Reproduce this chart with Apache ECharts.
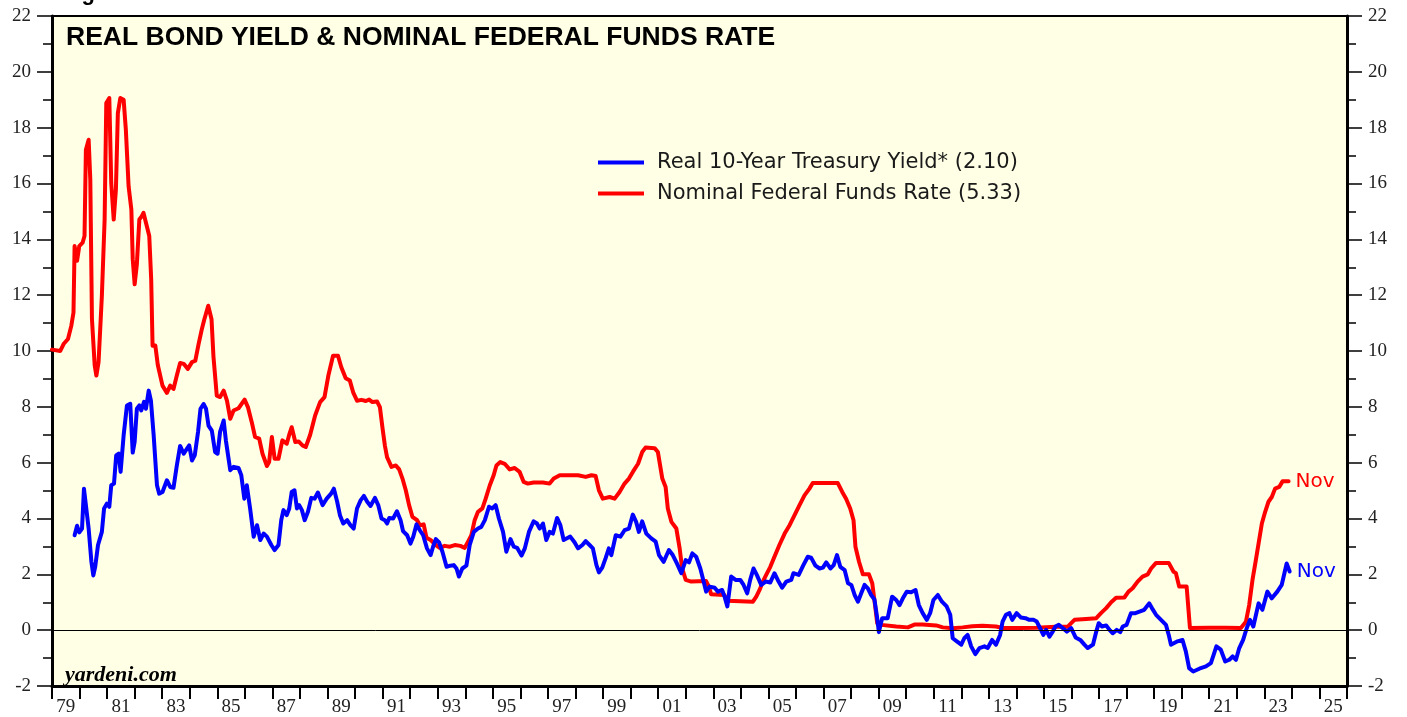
<!DOCTYPE html>
<html>
<head>
<meta charset="utf-8">
<title>Real Bond Yield & Nominal Federal Funds Rate</title>
<script src="https://cdn.jsdelivr.net/npm/echarts@6/dist/echarts.min.js"></script>
<style>
  html, body { margin: 0; padding: 0; background: #fff; }
  #chart { width: 1407px; height: 717px; }
</style>
</head>
<body>
<div id="chart"></div>
<script>
// year labels (one per year band, odd years shown)
var yearLabels = [];
for (var yr = 1979; yr <= 2025; yr++) yearLabels.push(String(yr).slice(2));

// Nominal Federal Funds Rate, % (x = decimal year)
var ffYears = [
  1979.0, 1979.3, 1979.42, 1979.58, 1979.7, 1979.78, 1979.82, 1979.91, 1979.99,
  1980.11, 1980.18, 1980.23, 1980.33, 1980.39, 1980.45, 1980.55, 1980.61, 1980.69, 1980.81, 1980.91, 1980.97,
  1981.08, 1981.15, 1981.24, 1981.32, 1981.39, 1981.48, 1981.6, 1981.68, 1981.78, 1981.88, 1981.93,
  1982.0, 1982.08, 1982.17, 1982.26, 1982.32, 1982.44, 1982.53, 1982.6, 1982.65, 1982.75, 1982.84,
  1983.01, 1983.17, 1983.29, 1983.41, 1983.53, 1983.65, 1983.78, 1983.93,
  1984.08, 1984.2, 1984.32, 1984.44, 1984.52, 1984.67, 1984.79, 1984.86, 1984.98,
  1985.1, 1985.23, 1985.35, 1985.47, 1985.59, 1985.77, 1985.99,
  1986.11, 1986.25, 1986.37, 1986.52, 1986.64, 1986.8, 1986.88, 1986.98,
  1987.08, 1987.22, 1987.36, 1987.52, 1987.61, 1987.7, 1987.83, 1987.95,
  1988.09, 1988.21, 1988.37, 1988.55, 1988.73, 1988.89,
  1989.03, 1989.2, 1989.38, 1989.5, 1989.66, 1989.81, 1989.93,
  1990.07, 1990.23, 1990.39, 1990.51, 1990.63, 1990.8, 1990.9,
  1991.0, 1991.08, 1991.16, 1991.32, 1991.48, 1991.6, 1991.72, 1991.84, 1991.96,
  1992.08, 1992.25, 1992.35, 1992.49, 1992.59, 1992.74, 1992.93,
  1993.07, 1993.25, 1993.44, 1993.62, 1993.82, 1993.98,
  1994.1, 1994.22, 1994.34, 1994.46, 1994.62, 1994.74, 1994.89,
  1995.03, 1995.13, 1995.27, 1995.43, 1995.61, 1995.79, 1995.97,
  1996.12, 1996.27, 1996.48, 1996.82, 1997.06, 1997.21, 1997.43,
  1998.09, 1998.37, 1998.58, 1998.73, 1998.85, 1998.99,
  1999.24, 1999.42, 1999.6, 1999.78, 1999.94,
  2000.08, 2000.27, 2000.42, 2000.54, 2000.87, 2000.99,
  2001.15, 2001.27, 2001.35, 2001.48, 2001.66, 2001.78, 2001.87,
  2002.0, 2002.2, 2002.74, 2002.84, 2002.92,
  2003.4, 2003.52, 2004.44, 2004.56, 2004.68, 2004.8, 2004.92,
  2005.07, 2005.22, 2005.4, 2005.59, 2005.77, 2005.95,
  2006.13, 2006.31, 2006.49, 2006.61, 2007.52, 2007.68, 2007.82, 2007.97,
  2008.09, 2008.16, 2008.29, 2008.43, 2008.65, 2008.77, 2008.87, 2008.95,
  2009.1, 2009.64, 2010.06, 2010.3, 2010.6, 2011.09, 2011.33, 2011.69,
  2012.05, 2012.4, 2012.77, 2013.26, 2013.5, 2014.14, 2014.72, 2015.44, 2015.86, 2015.99,
  2016.11, 2016.53, 2016.9, 2017.07, 2017.26, 2017.44, 2017.62, 2017.92,
  2018.07, 2018.22, 2018.4, 2018.58, 2018.77, 2018.89,
  2019.07, 2019.53, 2019.7, 2019.79, 2019.91, 2020.18, 2020.3,
  2021.0, 2021.6, 2022.15, 2022.21, 2022.33, 2022.45, 2022.57, 2022.69, 2022.79, 2022.91,
  2023.03, 2023.15, 2023.27, 2023.39, 2023.54, 2023.66, 2023.88
];
var ffRates = [
  10.05, 10.0, 10.25, 10.43, 10.9, 11.38, 13.76, 13.23, 13.76,
  13.88, 14.12, 17.21, 17.57, 16.14, 11.14, 9.48, 9.12, 9.6, 11.98, 14.71, 18.88,
  19.06, 16.02, 14.71, 15.79, 18.52, 19.06, 19.0, 17.93, 15.9, 15.07, 13.29,
  12.39, 13.11, 14.71, 14.83, 14.95, 14.48, 14.12, 12.57, 10.19, 10.2, 9.5,
  8.76, 8.5, 8.76, 8.64, 9.12, 9.57, 9.54, 9.36,
  9.6, 9.65, 10.25, 10.79, 11.1, 11.62, 11.14, 9.8, 8.4,
  8.35, 8.58, 8.22, 7.57, 7.87, 7.95, 8.26,
  7.99, 7.45, 6.92, 6.86, 6.32, 5.88, 6.02, 6.92,
  6.14, 6.14, 6.8, 6.68, 7.0, 7.27, 6.74, 6.76,
  6.62, 6.56, 7.0, 7.69, 8.17, 8.35,
  9.12, 9.83, 9.83, 9.42, 9.02, 8.94, 8.52,
  8.22, 8.25, 8.21, 8.26, 8.17, 8.19, 7.99,
  7.21, 6.62, 6.2, 5.85, 5.9, 5.76, 5.43, 5.01, 4.48,
  4.06, 3.94, 3.76, 3.79, 3.31, 3.23, 3.05,
  2.95, 3.02, 2.99, 3.05, 3.02, 2.95,
  3.17, 3.4, 3.94, 4.24, 4.36, 4.71, 5.19,
  5.55, 5.9, 6.02, 5.96, 5.76, 5.81, 5.67,
  5.31, 5.25, 5.29, 5.29, 5.25, 5.43, 5.55,
  5.55, 5.49, 5.55, 5.52, 5.01, 4.71,
  4.77, 4.71, 4.95, 5.25, 5.43,
  5.67, 5.96, 6.38, 6.54, 6.52, 6.38,
  5.43, 5.13, 4.36, 3.88, 3.64, 2.93, 2.21,
  1.8, 1.74, 1.76, 1.56, 1.29,
  1.26, 1.05, 1.02, 1.2, 1.44, 1.74, 1.98,
  2.27, 2.63, 3.05, 3.46, 3.76, 4.12,
  4.48, 4.83, 5.07, 5.27, 5.27, 4.95, 4.71, 4.36,
  3.94, 2.99, 2.45, 2.0, 2.0, 1.68, 0.9, 0.25,
  0.19, 0.13, 0.1, 0.2, 0.2, 0.17, 0.1, 0.07,
  0.1, 0.14, 0.16, 0.13, 0.08, 0.08, 0.09, 0.12, 0.12, 0.25,
  0.37, 0.4, 0.43, 0.61, 0.79, 1.0, 1.16, 1.17,
  1.38, 1.5, 1.74, 1.92, 2.0, 2.21,
  2.41, 2.41, 2.1, 2.04, 1.56, 1.56, 0.08,
  0.09, 0.09, 0.08, 0.08, 0.3, 0.9, 1.8, 2.5, 3.1, 3.82,
  4.24, 4.6, 4.77, 5.07, 5.13, 5.33, 5.33
];

// Real 10-Year Treasury Yield, % (x = decimal year)
var ryYears = [
  1979.82, 1979.91, 1979.99, 1980.09, 1980.16, 1980.23, 1980.33, 1980.43, 1980.5, 1980.57, 1980.67, 1980.81, 1980.89, 1980.99,
  1981.08, 1981.15, 1981.25, 1981.33, 1981.42, 1981.49, 1981.6, 1981.72, 1981.84, 1981.93,
  1982.0, 1982.08, 1982.17, 1982.24, 1982.34, 1982.41, 1982.51, 1982.59, 1982.69, 1982.81, 1982.89,
  1983.01, 1983.17, 1983.29, 1983.41, 1983.53, 1983.65, 1983.78, 1983.9, 1983.98,
  1984.08, 1984.18, 1984.3, 1984.39, 1984.5, 1984.59, 1984.68, 1984.8, 1984.92,
  1985.01, 1985.1, 1985.23, 1985.31, 1985.47, 1985.59, 1985.77, 1985.87, 1985.98,
  1986.07, 1986.19, 1986.32, 1986.44, 1986.56, 1986.68, 1986.8, 1986.96,
  1987.08, 1987.22, 1987.32, 1987.4, 1987.52, 1987.61, 1987.7, 1987.8, 1987.89, 1987.97,
  1988.07, 1988.17, 1988.29, 1988.41, 1988.53, 1988.65, 1988.82, 1988.97,
  1989.13, 1989.23, 1989.35, 1989.45, 1989.57, 1989.71, 1989.83, 1989.95,
  1990.07, 1990.2, 1990.32, 1990.44, 1990.56, 1990.72, 1990.84, 1990.96,
  1991.08, 1991.16, 1991.24, 1991.38, 1991.52, 1991.65, 1991.74, 1991.89,
  1992.01, 1992.11, 1992.23, 1992.35, 1992.47, 1992.61, 1992.74, 1992.83, 1992.93,
  1993.05, 1993.17, 1993.32, 1993.46, 1993.58, 1993.68, 1993.77, 1993.89,
  1994.04, 1994.16, 1994.31, 1994.46, 1994.58, 1994.71, 1994.86, 1994.98,
  1995.1, 1995.22, 1995.37, 1995.49, 1995.64, 1995.76, 1995.88,
  1996.04, 1996.16, 1996.31, 1996.48, 1996.6, 1996.7, 1996.82, 1996.94,
  1997.06, 1997.18, 1997.33, 1997.45, 1997.57, 1997.69, 1997.81, 1997.97,
  1998.09, 1998.25, 1998.37, 1998.51, 1998.63, 1998.76, 1998.85, 1998.97,
  1999.09, 1999.21, 1999.3, 1999.46, 1999.63, 1999.78, 1999.94,
  2000.08, 2000.2, 2000.3, 2000.42, 2000.57, 2000.75, 2000.91,
  2001.03, 2001.2, 2001.39, 2001.53, 2001.68, 2001.84,
  2002.0, 2002.12, 2002.24, 2002.38, 2002.53, 2002.65, 2002.74, 2002.87,
  2003.05, 2003.17, 2003.32, 2003.41, 2003.51, 2003.65, 2003.81, 2003.98,
  2004.1, 2004.23, 2004.34, 2004.46, 2004.58, 2004.74, 2004.9,
  2005.07, 2005.22, 2005.34, 2005.5, 2005.65, 2005.83, 2005.91,
  2006.1, 2006.27, 2006.43, 2006.55, 2006.71, 2006.86, 2006.98,
  2007.1, 2007.25, 2007.37, 2007.49, 2007.61, 2007.77, 2007.89,
  2008.01, 2008.13, 2008.25, 2008.37, 2008.49, 2008.61, 2008.73, 2008.85, 2008.94,
  2009.01, 2009.13, 2009.33, 2009.49, 2009.64, 2009.76, 2009.88,
  2010.02, 2010.18, 2010.34, 2010.46, 2010.6, 2010.75, 2010.87, 2010.99,
  2011.15, 2011.3, 2011.47, 2011.6, 2011.69, 2011.84,
  2012.0, 2012.11, 2012.23, 2012.36, 2012.51, 2012.66, 2012.84, 2012.96,
  2013.12, 2013.26, 2013.41, 2013.5, 2013.62, 2013.75, 2013.85,
  2014.01, 2014.17, 2014.33, 2014.47, 2014.62, 2014.74, 2014.86, 2014.98,
  2015.08, 2015.2, 2015.32, 2015.42, 2015.54, 2015.69, 2015.83, 2015.99,
  2016.15, 2016.32, 2016.47, 2016.59, 2016.78, 2016.9, 2016.99,
  2017.11, 2017.26, 2017.38, 2017.5, 2017.64, 2017.77, 2017.86,
  2018.0, 2018.16, 2018.32, 2018.49, 2018.64, 2018.82, 2018.92,
  2019.07, 2019.25, 2019.43, 2019.53, 2019.61, 2019.85,
  2020.03, 2020.15, 2020.27, 2020.42, 2020.64, 2020.88,
  2021.06, 2021.18, 2021.26, 2021.42, 2021.58, 2021.73, 2021.85, 2021.97,
  2022.09, 2022.23, 2022.36, 2022.48, 2022.6, 2022.79, 2022.93,
  2023.11, 2023.27, 2023.47, 2023.63, 2023.81, 2023.92
];
var ryRates = [
  3.40, 3.74, 3.5, 3.64, 5.07, 5.1, 3.64, 2.45, 1.96, 2.28, 3.05, 3.52, 4.36, 4.53,
  4.42, 5.19, 5.25, 6.26, 6.32, 5.67, 6.98, 8.05, 8.11, 6.36,
  6.75, 7.93, 8.05, 7.87, 8.18, 7.93, 8.58, 8.22, 6.98, 5.19, 4.89,
  4.95, 5.37, 5.13, 5.1, 5.9, 6.6, 6.32, 6.5, 6.62,
  6.08, 6.26, 7.1, 7.93, 8.1, 7.93, 7.33, 7.15, 6.38,
  6.32, 7.1, 7.51, 6.8, 5.73, 5.85, 5.81, 5.55, 4.71,
  5.19, 4.36, 3.35, 3.76, 3.23, 3.46, 3.35, 3.05,
  2.87, 3.05, 3.94, 4.3, 4.12, 4.36, 4.95, 5.01, 4.36, 4.48,
  4.3, 3.94, 4.24, 4.74, 4.71, 4.93, 4.48, 4.71,
  4.89, 5.07, 4.6, 4.12, 3.82, 3.94, 3.76, 3.64,
  4.36, 4.65, 4.81, 4.6, 4.45, 4.74, 4.48, 4.0,
  3.94, 3.82, 4.02, 4.0, 4.26, 3.94, 3.55, 3.4,
  3.1, 3.35, 3.79, 3.58, 3.4, 2.93, 2.69, 2.99, 3.26,
  3.14, 2.81, 2.27, 2.31, 2.33, 2.21, 1.92, 2.21,
  2.31, 3.05, 3.52, 3.64, 3.7, 3.94, 4.42, 4.36,
  4.48, 4.0, 3.52, 2.81, 3.26, 2.99, 2.95,
  2.67, 2.93, 3.52, 3.9, 3.82, 3.64, 3.82, 3.23,
  3.52, 3.46, 4.02, 3.76, 3.23, 3.29, 3.35, 3.14,
  2.93, 3.05, 3.19, 3.05, 2.93, 2.33, 2.07, 2.24,
  2.57, 2.93, 2.69, 3.4, 3.35, 3.58, 3.64,
  4.14, 3.88, 3.52, 3.9, 3.46, 3.29, 3.17,
  2.69, 2.45, 2.87, 2.69, 2.39, 2.04,
  2.51, 2.43, 2.75, 2.63, 2.21, 1.74, 1.38, 1.56,
  1.52, 1.38, 1.44, 1.2, 0.85, 1.92, 1.8, 1.8,
  1.62, 1.32, 1.8, 2.21, 1.98, 1.62, 1.74,
  1.71, 2.04, 1.8, 1.52, 1.74, 1.8, 2.04,
  1.98, 2.33, 2.63, 2.6, 2.31, 2.21, 2.24,
  2.43, 2.21, 2.33, 2.69, 2.27, 2.15, 1.68,
  1.62, 1.26, 1.02, 1.32, 1.62, 1.5, 1.26, 1.1, 0.5,
  -0.07, 0.43, 0.43, 1.2, 1.08, 0.9, 1.14,
  1.38, 1.36, 1.44, 0.9, 0.61, 0.37, 0.61, 1.08,
  1.26, 1.02, 0.85, 0.55, -0.29, -0.4,
  -0.52, -0.29, -0.17, -0.58, -0.86, -0.64, -0.58, -0.64,
  -0.35, -0.52, -0.17, 0.31, 0.55, 0.61, 0.37,
  0.61, 0.45, 0.43, 0.37, 0.37, 0.31, 0.07, -0.17,
  0.01, -0.23, -0.05, 0.13, 0.19, 0.07, -0.05, 0.07,
  -0.26, -0.35, -0.52, -0.64, -0.52, -0.05, 0.25,
  0.13, 0.17, 0.01, -0.11, 0.01, -0.07, 0.13,
  0.19, 0.61, 0.61, 0.67, 0.73, 0.96, 0.79,
  0.55, 0.37, 0.19, -0.17, -0.52, -0.4,
  -0.35, -0.76, -1.36, -1.48, -1.38, -1.3,
  -1.18, -0.82, -0.58, -0.7, -1.12, -1.06, -0.94, -1.06,
  -0.64, -0.35, 0.07, 0.37, 0.13, 0.96, 0.73,
  1.38, 1.14, 1.38, 1.62, 2.39, 2.10
];

function pairs(xs, ys) {
  return xs.map(function (x, i) { return [x, ys[i]]; });
}

var serif = "'Liberation Serif', 'Times New Roman', serif";
var sans = "'Liberation Sans', Arial, sans-serif";
var wide = "'DejaVu Sans', Verdana, sans-serif";

var chart = echarts.init(document.getElementById('chart'));

var yAxisBase = {
  type: 'value',
  min: -2,
  max: 22,
  interval: 2,
  axisLine: { show: true, onZero: false, lineStyle: { color: '#000', width: 3 } },
  axisTick: { show: true, inside: false, length: 15, lineStyle: { color: '#000', width: 1.5 } },
  minorTick: { show: true, splitNumber: 2, length: 9, lineStyle: { color: '#000', width: 1.5 } },
  splitLine: { show: false },
  axisLabel: { color: '#222', fontFamily: serif, fontSize: 19, margin: 21 }
};

chart.setOption({
  backgroundColor: '#fff',
  animation: false,
  grid: {
    left: 52, right: 60, top: 16, bottom: 29,
    show: true,
    backgroundColor: '#FFFFE5',
    borderColor: '#000',
    borderWidth: 2
  },
  xAxis: [
    {
      // year bands, labels centred between the year ticks
      type: 'category',
      data: yearLabels,
      boundaryGap: true,
      position: 'bottom',
      axisLine: { show: true, onZero: false, lineStyle: { color: '#000', width: 3 } },
      axisTick: { show: true, interval: 0, length: 13, lineStyle: { color: '#000', width: 2 } },
      axisLabel: { interval: 1, color: '#222', fontFamily: serif, fontSize: 19, margin: 12 },
      splitLine: { show: false }
    },
    {
      type: 'value',
      min: 1979,
      max: 2026,
      show: false,
      splitLine: { show: false }
    }
  ],
  yAxis: [
    Object.assign({ position: 'left' }, yAxisBase),
    Object.assign({ position: 'right' }, yAxisBase)
  ],
  legend: {
    orient: 'vertical',
    left: 593,
    top: 147,
    itemWidth: 46,
    itemHeight: 4,
    itemGap: 10,
    icon: 'rect',
    textStyle: { color: '#1a1a1a', fontFamily: wide, fontSize: 21, lineHeight: 21, padding: [0, 0, 0, 8] },
    data: ['Real 10-Year Treasury Yield* (2.10)', 'Nominal Federal Funds Rate (5.33)']
  },
  graphic: [
    {
      type: 'text', left: 62, top: -17, silent: true,
      style: { text: 'Figure 1.', font: 'bold 22px ' + sans, fill: '#000' }
    },
    {
      type: 'text', left: 66, top: 24, silent: true,
      style: { text: 'REAL BOND YIELD & NOMINAL FEDERAL FUNDS RATE', font: 'bold 26.5px ' + sans, fill: '#000' }
    },
    {
      type: 'text', left: 65, top: 664, silent: true,
      style: { text: 'yardeni.com', font: 'italic bold 22px ' + serif, fill: '#000' }
    }
  ],
  series: [
    {
      name: 'Nominal Federal Funds Rate (5.33)',
      type: 'line',
      xAxisIndex: 1,
      yAxisIndex: 0,
      data: pairs(ffYears, ffRates),
      showSymbol: false,
      symbol: 'none',
      color: '#FF0000',
      lineStyle: { color: '#FF0000', width: 4, cap: 'round', join: 'round' },
      endLabel: { show: true, formatter: 'Nov', color: '#FF0000', fontFamily: wide, fontSize: 20, distance: 7 },
      markLine: {
        silent: true,
        symbol: ['none', 'none'],
        label: { show: false },
        lineStyle: { color: '#000', width: 1, type: 'solid' },
        data: [{ yAxis: 0 }]
      },
      z: 3
    },
    {
      name: 'Real 10-Year Treasury Yield* (2.10)',
      type: 'line',
      xAxisIndex: 1,
      yAxisIndex: 0,
      data: pairs(ryYears, ryRates),
      showSymbol: false,
      symbol: 'none',
      color: '#0000FF',
      lineStyle: { color: '#0000FF', width: 4, cap: 'round', join: 'round' },
      endLabel: { show: true, formatter: 'Nov', color: '#0000FF', fontFamily: wide, fontSize: 20, distance: 7 },
      z: 4
    }
  ]
});
</script>
</body>
</html>
